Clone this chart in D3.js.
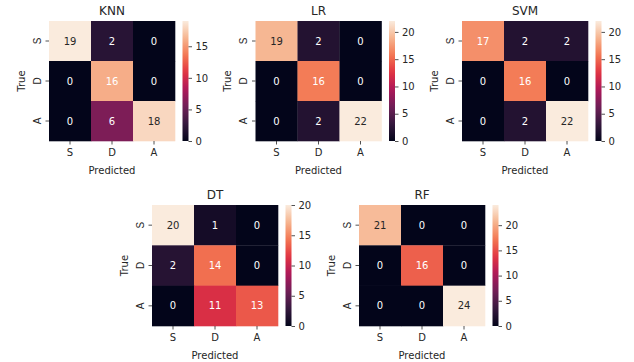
<!DOCTYPE html>
<html>
<head>
<meta charset="utf-8">
<script src="https://cdn.jsdelivr.net/npm/d3@7"></script>
<style>
  html, body { margin: 0; padding: 0; background: #fff; }
  svg { display: block; font-family: "DejaVu Sans", sans-serif; }
</style>
</head>
<body>
<svg id="chart" width="634" height="362"></svg>
<script>
// Class labels (rows = true class, columns = predicted class)
const classLabels = ["S", "D", "A"];

// Confusion matrices per model
const models = ["KNN", "LR", "SVM", "DT", "RF"];
const knnMatrix = [[19, 2, 0], [0, 16, 0], [0, 6, 18]];
const lrMatrix  = [[19, 2, 0], [0, 16, 0], [0, 2, 22]];
const svmMatrix = [[17, 2, 2], [0, 16, 0], [0, 2, 22]];
const dtMatrix  = [[20, 1, 0], [2, 14, 0], [0, 11, 13]];
const rfMatrix  = [[21, 0, 0], [0, 16, 0], [0, 0, 24]];
const matrices = [knnMatrix, lrMatrix, svmMatrix, dtMatrix, rfMatrix];

// Colour bar ticks for each panel
const cbarTicks = [
  [0, 5, 10, 15],
  [0, 5, 10, 15, 20],
  [0, 5, 10, 15, 20],
  [0, 5, 10, 15, 20],
  [0, 5, 10, 15, 20]
];

// Panel placement (heatmap box)
const panels = [
  { x: 49,    y: 21,    w: 126, h: 120 },
  { x: 255.5, y: 21,    w: 126, h: 120 },
  { x: 462,   y: 21,    w: 126, h: 120 },
  { x: 152,   y: 205,   w: 126, h: 121 },
  { x: 359,   y: 205,   w: 126, h: 121 }
];

// "rocket" colour map anchor colours
const rocketStops = ["#03051a", "#35193e", "#701f57", "#ad1759",
                     "#e13342", "#f37651", "#f6b48f", "#faebdd"];
const rocket = d3.piecewise(d3.interpolateRgb, rocketStops);

const svg = d3.select("#chart");
const textColor = "#262626";
const tickLen = 3.5;

const defs = svg.append("defs");

models.forEach((name, i) => {
  const m = matrices[i];
  const p = panels[i];
  const flat = m.flat();
  const vmin = d3.min(flat), vmax = d3.max(flat);
  const norm = d3.scaleLinear().domain([vmin, vmax]).range([0, 1]);
  const color = v => rocket(norm(v));

  const x = d3.scaleBand().domain(classLabels).range([p.x, p.x + p.w]);
  const y = d3.scaleBand().domain(classLabels).range([p.y, p.y + p.h]);

  const g = svg.append("g");

  // cells
  const cells = [];
  m.forEach((row, r) => row.forEach((v, c) => cells.push({ r: classLabels[r], c: classLabels[c], v })));
  g.selectAll("rect.cell").data(cells).enter().append("rect")
    .attr("class", "cell")
    .attr("x", d => x(d.c))
    .attr("y", d => y(d.r))
    .attr("width", x.bandwidth() + 0.3)
    .attr("height", y.bandwidth() + 0.3)
    .attr("fill", d => color(d.v));

  // annotations
  g.selectAll("text.annot").data(cells).enter().append("text")
    .attr("class", "annot")
    .attr("x", d => x(d.c) + x.bandwidth() / 2)
    .attr("y", d => y(d.r) + y.bandwidth() / 2)
    .attr("dy", "0.36em")
    .attr("text-anchor", "middle")
    .attr("font-size", 10)
    .attr("fill", d => norm(d.v) > 0.85 ? textColor : "#ffffff")
    .text(d => d.v);

  // x axis
  const xAxis = d3.axisBottom(x).tickSize(tickLen).tickPadding(4.5);
  const gx = g.append("g").attr("transform", `translate(0,${p.y + p.h})`).call(xAxis);
  gx.select(".domain").remove();
  gx.selectAll(".tick line").attr("stroke", textColor).attr("stroke-width", 0.8);
  gx.selectAll(".tick text").attr("font-size", 10).attr("fill", textColor)
    .attr("font-family", "DejaVu Sans");

  // y axis with vertical labels
  const yAxis = d3.axisLeft(y).tickSize(tickLen).tickFormat("");
  const gy = g.append("g").attr("transform", `translate(${p.x},0)`).call(yAxis);
  gy.select(".domain").remove();
  gy.selectAll(".tick line").attr("stroke", textColor).attr("stroke-width", 0.8);
  gy.selectAll(".tick").append("text")
    .attr("transform", "translate(-8.5,0) rotate(-90)")
    .attr("text-anchor", "middle")
    .attr("font-size", 10)
    .attr("fill", textColor)
    .text(d => d);

  // axis titles
  g.append("text")
    .attr("x", p.x + p.w / 2)
    .attr("y", p.y + p.h + 32.5)
    .attr("text-anchor", "middle")
    .attr("font-size", 10)
    .attr("fill", textColor)
    .text("Predicted");
  g.append("text")
    .attr("transform", `translate(${p.x - 24.5},${p.y + p.h / 2}) rotate(-90)`)
    .attr("text-anchor", "middle")
    .attr("font-size", 10)
    .attr("fill", textColor)
    .text("True");

  // title
  g.append("text")
    .attr("x", p.x + p.w / 2)
    .attr("y", p.y - 6)
    .attr("text-anchor", "middle")
    .attr("font-size", 12)
    .attr("fill", textColor)
    .text(name);

  // colour bar
  const cbX = p.x + p.w + 7.5, cbW = 6;
  const cbScale = d3.scaleLinear().domain([vmin, vmax]).range([p.y + p.h, p.y]);
  const gradId = "grad-" + name;
  const grad = defs.append("linearGradient").attr("id", gradId)
    .attr("x1", 0).attr("y1", 1).attr("x2", 0).attr("y2", 0);
  d3.range(0, 1.0001, 0.05).forEach(t => {
    grad.append("stop").attr("offset", t).attr("stop-color", rocket(t));
  });
  g.append("rect")
    .attr("x", cbX).attr("y", p.y)
    .attr("width", cbW).attr("height", p.h)
    .attr("fill", `url(#${gradId})`);
  const cbAxis = d3.axisRight(cbScale).tickValues(cbarTicks[i]).tickSize(tickLen).tickPadding(3.5);
  const gc = g.append("g").attr("transform", `translate(${cbX + cbW},0)`).call(cbAxis);
  gc.select(".domain").remove();
  gc.selectAll(".tick line").attr("stroke", textColor).attr("stroke-width", 0.8);
  gc.selectAll(".tick text").attr("font-size", 10).attr("fill", textColor)
    .attr("font-family", "DejaVu Sans");
});
</script>
</body>
</html>
